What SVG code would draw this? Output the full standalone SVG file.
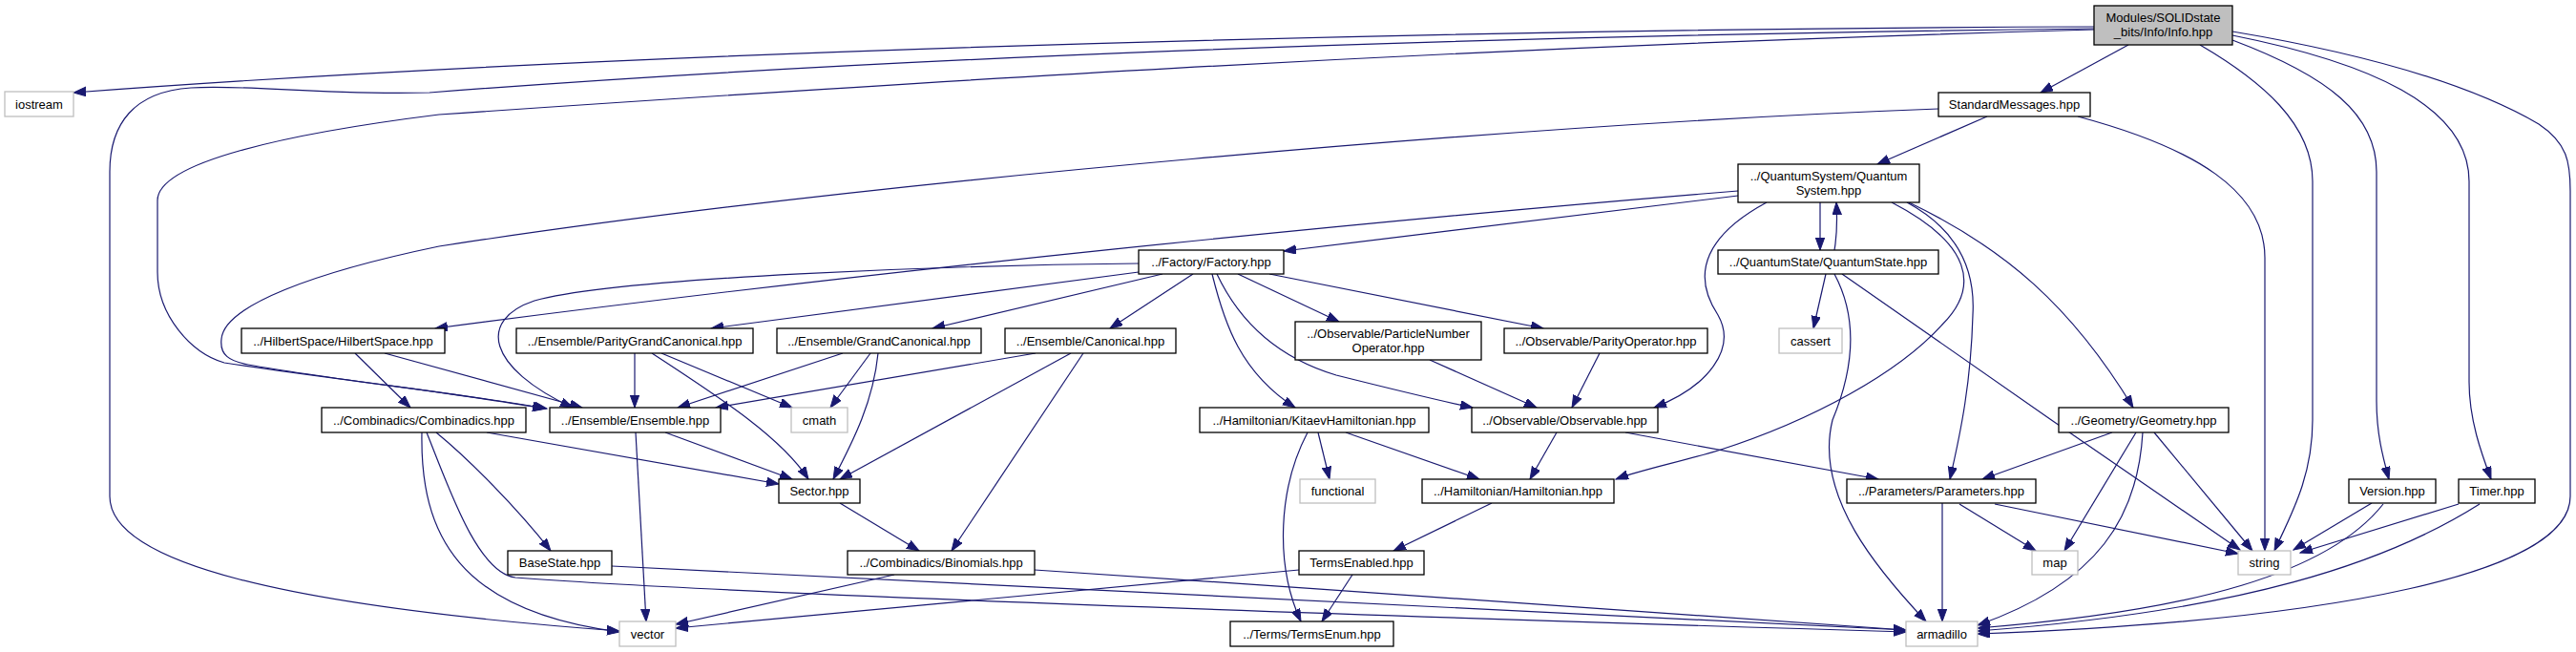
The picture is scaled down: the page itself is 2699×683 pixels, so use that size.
<svg xmlns="http://www.w3.org/2000/svg" width="2699" height="683" viewBox="0 0 2699 683">
<defs>
<style>
.n rect{fill:#ffffff;stroke:#000000;stroke-width:1.3}
.g rect{fill:#ffffff;stroke:#bfbfbf;stroke-width:1.3}
.m rect{fill:#bfbfbf;stroke:#000000;stroke-width:1.3}
text{font-family:"Liberation Sans",Arial,Helvetica,sans-serif;font-size:13px;fill:#000000;text-anchor:middle}
#edges path{fill:none;stroke:#191970;stroke-width:1.2;marker-end:url(#arr)}
</style>
<marker id="arr" markerWidth="14" markerHeight="11" refX="13" refY="4.7" orient="auto" markerUnits="userSpaceOnUse">
<path d="M0,0 L13,4.7 L0,9.4 z" fill="#191970" stroke="#191970" stroke-width="1"/>
</marker>
</defs>
<rect x="0" y="0" width="2699" height="683" fill="#ffffff"/>
<g id="edges">
<path d="M2194,28 C1600,30 700,50 77,97"/>
<path d="M2194,30 C1500,38 900,62 450,97 C330,100 260,88 200,92 C140,96 115,130 115,180 L115,520 C115,590 300,635 649,661"/>
<path d="M2194,31 C1500,50 900,90 460,120 C300,140 165,170 165,210 L165,285 C165,330 200,370 235,380 C330,395 470,410 573,428"/>
<path d="M2230,47 L2138,97"/>
<path d="M2305,47 C2370,85 2423,130 2423,190 L2423,440 C2423,500 2400,540 2383,577"/>
<path d="M2339,42 C2440,80 2490,120 2490,180 L2490,420 C2490,455 2497,480 2503,502"/>
<path d="M2339,37 C2480,65 2587,110 2587,190 L2587,400 C2587,440 2600,475 2610,502"/>
<path d="M2339,33 C2500,60 2600,95 2660,130 C2690,150 2693,170 2693,200 L2693,520 C2693,600 2450,650 2072,664"/>
<path d="M2082,122 L1967,172"/>
<path d="M2177,122 C2300,155 2373,200 2373,270 L2373,577"/>
<path d="M2031,114 C1600,130 900,190 460,258 C330,285 235,320 232,355 C230,372 240,378 260,382 C350,398 480,412 571,428"/>
<path d="M1821,205 L1345,263"/>
<path d="M1821,200 C1450,230 900,285 456,344"/>
<path d="M1907,212 L1907,262"/>
<path d="M1922,262 C1925,245 1925,230 1924,212"/>
<path d="M1851,212 C1790,245 1770,285 1800,330 C1820,365 1790,405 1733,427"/>
<path d="M1998,212 C2050,240 2070,280 2067,330 C2065,400 2055,450 2043,502"/>
<path d="M1982,212 C2065,255 2075,300 2035,340 C1990,390 1900,440 1800,472 C1760,484 1720,492 1693,502"/>
<path d="M2000,212 C2100,260 2170,320 2235,427"/>
<path d="M1703,453 L1968,502"/>
<path d="M1913,287 L1900,344"/>
<path d="M1922,287 C1945,330 1945,380 1920,440 C1900,520 1970,600 2018,651"/>
<path d="M1930,287 C1990,330 2250,510 2347,576"/>
<path d="M1193,276 C1000,278 650,290 560,315 C500,335 510,385 600,427"/>
<path d="M1193,285 L745,344"/>
<path d="M1218,287 L977,344"/>
<path d="M1250,287 L1163,344"/>
<path d="M1270,287 C1283,340 1300,390 1357,427"/>
<path d="M1275,287 C1300,340 1340,375 1400,393 C1460,408 1500,418 1543,427"/>
<path d="M1297,287 L1403,337"/>
<path d="M1330,287 L1617,344"/>
<path d="M1498,377 L1610,427"/>
<path d="M1676,370 L1647,427"/>
<path d="M1631,453 L1603,502"/>
<path d="M1410,453 L1550,502"/>
<path d="M1381,453 L1393,502"/>
<path d="M1370,453 C1340,510 1335,590 1363,651"/>
<path d="M1563,527 L1460,577"/>
<path d="M1417,602 L1385,651"/>
<path d="M1361,597 L708,658"/>
<path d="M937,602 L708,654"/>
<path d="M1084,597 C1400,618 1800,645 1997,660"/>
<path d="M641,593 L1997,660"/>
<path d="M447,453 C470,510 500,600 540,605 C800,625 1600,650 1997,662"/>
<path d="M442,453 C440,560 480,640 649,662"/>
<path d="M510,453 L816,507"/>
<path d="M457,453 C490,480 540,530 577,577"/>
<path d="M372,370 L430,427"/>
<path d="M403,370 L610,427"/>
<path d="M665,370 L665,427"/>
<path d="M693,370 L830,427"/>
<path d="M683,370 C760,420 820,460 847,502"/>
<path d="M883,370 L710,427"/>
<path d="M912,370 L870,427"/>
<path d="M920,370 C915,420 895,460 873,502"/>
<path d="M1085,370 L750,427"/>
<path d="M1122,370 L880,502"/>
<path d="M1135,370 L997,577"/>
<path d="M666,453 L677,651"/>
<path d="M697,453 L830,502"/>
<path d="M880,527 L963,577"/>
<path d="M2213,453 L2077,502"/>
<path d="M2238,453 L2163,577"/>
<path d="M2245,453 C2240,540 2200,610 2072,655"/>
<path d="M2257,453 L2360,577"/>
<path d="M2035,527 L2035,651"/>
<path d="M2053,528 L2133,577"/>
<path d="M2090,528 L2345,580"/>
<path d="M2485,527 L2403,576"/>
<path d="M2497,528 C2440,600 2300,640 2072,658"/>
<path d="M2576,528 L2410,579"/>
<path d="M2598,528 C2500,590 2350,640 2072,661"/>
</g>
<g id="node-info" class="m"><rect x="2194" y="6" width="145" height="41"/><text x="2266.5" y="23">Modules/SOLIDstate</text><text x="2266.5" y="38">_bits/Info/Info.hpp</text></g>
<g id="node-iostream" class="g"><rect x="5" y="96" width="72" height="26"/><text x="41" y="113.5">iostream</text></g>
<g id="node-stdmsg" class="n"><rect x="2031" y="97" width="159" height="25"/><text x="2110.5" y="114">StandardMessages.hpp</text></g>
<g id="node-qsystem" class="n"><rect x="1821" y="172" width="190" height="40"/><text x="1916" y="188.5">../QuantumSystem/Quantum</text><text x="1916" y="203.5">System.hpp</text></g>
<g id="node-qstate" class="n"><rect x="1800" y="262" width="231" height="25"/><text x="1915.5" y="279">../QuantumState/QuantumState.hpp</text></g>
<g id="node-factory" class="n"><rect x="1193" y="262" width="152" height="25"/><text x="1269" y="279">../Factory/Factory.hpp</text></g>
<g id="node-hilbert" class="n"><rect x="253" y="344" width="213" height="26"/><text x="359.5" y="361.5">../HilbertSpace/HilbertSpace.hpp</text></g>
<g id="node-pgc" class="n"><rect x="541" y="344" width="248" height="26"/><text x="665" y="361.5">../Ensemble/ParityGrandCanonical.hpp</text></g>
<g id="node-gc" class="n"><rect x="814" y="344" width="214" height="26"/><text x="921" y="361.5">../Ensemble/GrandCanonical.hpp</text></g>
<g id="node-canonical" class="n"><rect x="1053" y="344" width="179" height="26"/><text x="1142.5" y="361.5">../Ensemble/Canonical.hpp</text></g>
<g id="node-pnop" class="n"><rect x="1357" y="337" width="195" height="40"/><text x="1454.5" y="353.5">../Observable/ParticleNumber</text><text x="1454.5" y="368.5">Operator.hpp</text></g>
<g id="node-parityop" class="n"><rect x="1576" y="344" width="213" height="26"/><text x="1682.5" y="361.5">../Observable/ParityOperator.hpp</text></g>
<g id="node-cassert" class="g"><rect x="1864" y="344" width="66" height="26"/><text x="1897" y="361.5">cassert</text></g>
<g id="node-combinadics" class="n"><rect x="337" y="427" width="214" height="26"/><text x="444" y="444.5">../Combinadics/Combinadics.hpp</text></g>
<g id="node-ensemble" class="n"><rect x="576" y="427" width="179" height="26"/><text x="665.5" y="444.5">../Ensemble/Ensemble.hpp</text></g>
<g id="node-cmath" class="g"><rect x="829" y="427" width="59" height="26"/><text x="858.5" y="444.5">cmath</text></g>
<g id="node-kitaev" class="n"><rect x="1257" y="427" width="240" height="26"/><text x="1377" y="444.5">../Hamiltonian/KitaevHamiltonian.hpp</text></g>
<g id="node-observable" class="n"><rect x="1542" y="427" width="195" height="26"/><text x="1639.5" y="444.5">../Observable/Observable.hpp</text></g>
<g id="node-geometry" class="n"><rect x="2157" y="427" width="178" height="26"/><text x="2246" y="444.5">../Geometry/Geometry.hpp</text></g>
<g id="node-sector" class="n"><rect x="816" y="502" width="85" height="25"/><text x="858.5" y="519">Sector.hpp</text></g>
<g id="node-functional" class="g"><rect x="1362" y="502" width="79" height="25"/><text x="1401.5" y="519">functional</text></g>
<g id="node-hamiltonian" class="n"><rect x="1490" y="502" width="201" height="25"/><text x="1590.5" y="519">../Hamiltonian/Hamiltonian.hpp</text></g>
<g id="node-parameters" class="n"><rect x="1935" y="502" width="198" height="25"/><text x="2034" y="519">../Parameters/Parameters.hpp</text></g>
<g id="node-version" class="n"><rect x="2461" y="502" width="91" height="25"/><text x="2506.5" y="519">Version.hpp</text></g>
<g id="node-timer" class="n"><rect x="2576" y="502" width="80" height="25"/><text x="2616" y="519">Timer.hpp</text></g>
<g id="node-basestate" class="n"><rect x="532" y="577" width="109" height="25"/><text x="586.5" y="594">BaseState.hpp</text></g>
<g id="node-binomials" class="n"><rect x="888" y="577" width="196" height="25"/><text x="986" y="594">../Combinadics/Binomials.hpp</text></g>
<g id="node-termsenabled" class="n"><rect x="1361" y="577" width="131" height="25"/><text x="1426.5" y="594">TermsEnabled.hpp</text></g>
<g id="node-map" class="g"><rect x="2129" y="577" width="48" height="25"/><text x="2153" y="594">map</text></g>
<g id="node-string" class="g"><rect x="2345" y="577" width="55" height="25"/><text x="2372.5" y="594">string</text></g>
<g id="node-vector" class="g"><rect x="649" y="651" width="59" height="26"/><text x="678.5" y="668.5">vector</text></g>
<g id="node-termsenum" class="n"><rect x="1289" y="651" width="171" height="26"/><text x="1374.5" y="668.5">../Terms/TermsEnum.hpp</text></g>
<g id="node-armadillo" class="g"><rect x="1997" y="651" width="75" height="26"/><text x="2034.5" y="668.5">armadillo</text></g>
</svg>
